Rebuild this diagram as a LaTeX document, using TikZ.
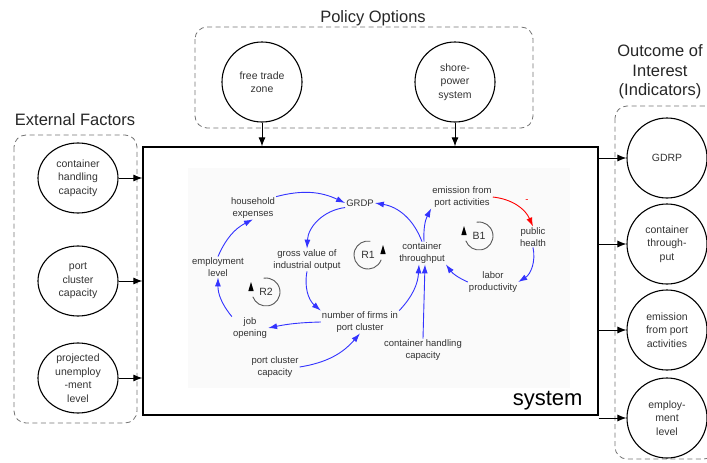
\documentclass[tikz,border=0pt]{standalone}
\usepackage{fontspec}
\setmainfont{Liberation Sans}
\usetikzlibrary{arrows.meta,shapes.geometric,positioning}

\begin{document}
\begin{tikzpicture}[x=1pt,y=-1pt,
    factor/.style={circle,draw,line width=1.1pt,minimum size=80pt,inner sep=0pt,align=center,font=\fontsize{10.5}{13.5}\selectfont,text=black!80},
    flat/.style={factor,ellipse,minimum width=80pt,minimum height=70pt},
    group/.style={draw=black!55,dash pattern=on 5pt off 3.5pt,rounded corners=12pt,line width=0.8pt},
    heading/.style={font=\fontsize{16.5}{19.5}\selectfont,align=center,text=black!85},
    var/.style={font=\fontsize{9.5}{11.5}\selectfont,align=center,text=black!80,inner sep=1pt},
    link/.style={-{Latex[length=9pt,width=6pt]},blue!80,line width=0.9pt},
    loopline/.style={draw=black!65,line width=0.9pt}]
  \tikzset{>={Latex[length=9pt,width=7pt]}}
  \useasboundingbox (0,0) rectangle (707,463);

  % groups and titles
  \draw[group] (14,135) rectangle (137,423);
  \draw[group] (195,27) rectangle (533,128);
  \draw[group] (615,106) rectangle (716,459);
  \node[heading] (tl) at (75,120) {External Factors};
  \node[heading] (tp) at (373,18) {Policy Options};
  \node[heading] (tr) at (660,72) {Outcome of\\Interest\\(Indicators)};

  % the system
  \node[draw,line width=1.2pt,minimum width=455pt,minimum height=268pt,inner sep=0pt] (sys) at (370.5,281) {};
  \fill[gray!4] (188,168) rectangle (570,388);
  \node[font=\fontsize{22}{26}\selectfont,anchor=base east] (sysname) at (586,405) {system};

  % external factors
  \foreach \n/\y/\t in {ext1/178/{container\\handling\\capacity}, ext2/281/{port\\cluster\\capacity}, ext3/378/{projected\\unemploy\\-ment\\level}} {
      \node[flat] (\n) at (78,\y) {\t};
      \draw[->,line width=1pt] (\n.east) -- (\n.east -| sys.west);
    }

  % policy options
  \node[factor] (pol1) at (262,82) {free trade\\zone};
  \node[factor] (pol2) at (455,82) {shore-\\power\\system};
  \foreach \n in {pol1, pol2} {
      \draw[->,line width=1pt] (\n.south) -- (\n.south |- sys.north);
    }

  % outcomes
  \foreach \n/\y/\t in {out1/158/GDRP, out2/244/{container\\through-\\put}, out3/330/{emission\\from port\\activities}, out4/418/{employ-\\ment\\level}} {
      \node[factor] (\n) at (667,\y) {\t};
      \draw[->,line width=1pt] (sys.east |- \n.west) -- (\n.west);
    }

  % causal loop inside the system
  \node[var] (hh) at (253,208) {household\\expenses};
  \node[var] (grdp) at (360,203) {GRDP};
  \node[var] (gvio) at (307,260) {gross value of\\industrial output};
  \node[var] (emp) at (218,267) {employment\\level};
  \node[var] (jobs) at (250,328) {job\\opening};
  \node[var] (firms) at (360,322) {number of firms in\\port cluster};
  \node[var] (pcc) at (275,367) {port cluster\\capacity};
  \node[var] (chc) at (423,350) {container handling\\capacity};
  \node[var] (ct) at (422,253) {container\\throughput};
  \node[var] (emis) at (462,197) {emission from\\port activities};
  \node[var] (ph) at (533,237) {public\\health};
  \node[var] (lp) at (493,282) {labor\\productivity};
  \node[var,text=red] (minus) at (527,201) {-};

  \draw[link] (hh.north east) to[bend left=20] (grdp.west);
  \draw[link] (grdp.south west) to[bend right=40] (gvio.north);
  \draw[link] (gvio.south) to[bend right=30] (firms.north west);
  \draw[link] (firms.north east) to[bend right=20] ([xshift=-3pt]ct.south);
  \draw[link] (chc.north) -- ([xshift=3pt]ct.south);
  \draw[link] (ct.north) to[bend right=30] (grdp.east);
  \draw[link] ([xshift=2pt]ct.north) to[bend left=15] (emis.south west);
  \draw[link,red] (emis.east) to[bend left=30] (ph.north);
  \draw[link] (ph.south) to[bend left=35] (lp.east);
  \draw[link] (lp.west) to[bend left=15] (ct.south east);
  \draw[link] (emp.north) to[bend left=20] (hh.south);
  \draw[link] (jobs.north west) to[bend left=20] (emp.south);
  \draw[link] (firms.west) to[bend right=5] (jobs.east);
  \draw[link] (pcc.east) to[bend right=20] (firms.south);

  % loop markers
  \foreach \n/\x/\y/\s in {r1/368/255/R1, r2/266/292/R2, b1/479/236/B1} {
      \node[var,font=\fontsize{10.5}{12}\selectfont] (\n) at (\x,\y) {\s};
    }
  \draw[loopline] ([shift={(20:14)}]r1.center) arc[start angle=20,end angle=280,radius=14];
  \fill ([shift={(15,-10)}]r1.center) -- ([shift={(12.3,-1)}]r1.center) -- ([shift={(17.7,-1)}]r1.center) -- cycle;
  \draw[loopline] ([shift={(-100:14)}]r2.center) arc[start angle=-100,end angle=160,radius=14];
  \fill ([shift={(-15,-10)}]r2.center) -- ([shift={(-17.7,-1)}]r2.center) -- ([shift={(-12.3,-1)}]r2.center) -- cycle;
  \draw[loopline] ([shift={(-100:14)}]b1.center) arc[start angle=-100,end angle=160,radius=14];
  \fill ([shift={(-15,-10)}]b1.center) -- ([shift={(-17.7,-1)}]b1.center) -- ([shift={(-12.3,-1)}]b1.center) -- cycle;
\end{tikzpicture}
\end{document}
